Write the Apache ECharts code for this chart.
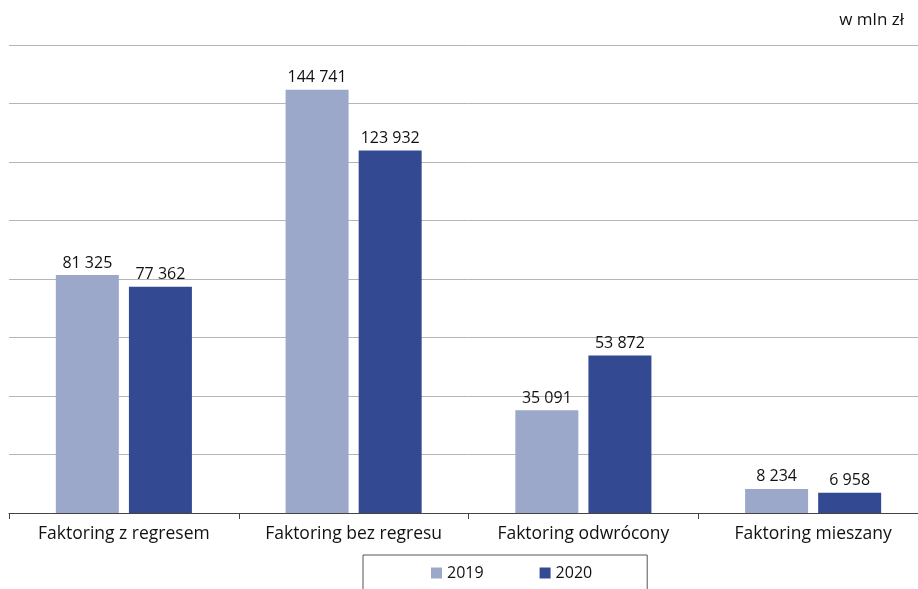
<!DOCTYPE html>
<html><head><meta charset="utf-8">
<script src="https://cdn.jsdelivr.net/npm/echarts@6/dist/echarts.min.js"></script>
<style>html,body{margin:0;padding:0;background:#fff;overflow:hidden;width:918px;height:589px}#c{width:928px;height:589px}</style>
</head><body><div id="c"></div>
<script>
const categories = ["Faktoring z regresem", "Faktoring bez regresu", "Faktoring odwrócony", "Faktoring mieszany"];
const years = ["2019", "2020"];
const values2019 = [81325, 144741, 35091, 8234];
const values2020 = [77362, 123932, 53872, 6958];
const unitLabel = "w mln zł";

const fmt = v => String(v).replace(/\B(?=(\d{3})+(?!\d))/g, " ");
const FONT = "Open Sans";
const chart = echarts.init(document.getElementById('c'));
const lbl = {show: true, position: 'top', distance: 4, color: '#111', fontSize: 16, fontFamily: FONT, formatter: p => fmt(p.value)};
chart.setOption({
  animation: false,
  textStyle: {fontFamily: FONT},
  title: {text: unitLabel, right: 19, top: 7, textStyle: {fontSize: 17, fontWeight: 'normal', color: '#111', fontFamily: FONT}},
  grid: {left: 9, right: 0, top: 45, bottom: 76, containLabel: false},
  legend: {
    data: years, left: 363, top: 555, width: 285,
    padding: [10, 55, 30, 68], itemGap: 56, itemWidth: 11, itemHeight: 11,
    borderColor: '#555', borderWidth: 1,
    textStyle: {fontSize: 16, color: '#111', fontFamily: FONT},
    icon: 'rect'
  },
  xAxis: {
    type: 'category', data: categories,
    axisLine: {lineStyle: {color: '#444', width: 1}},
    axisTick: {show: true, length: 6, lineStyle: {color: '#444'}},
    axisLabel: {fontSize: 17.5, color: '#111', margin: 12, fontFamily: FONT, interval: 0}
  },
  yAxis: {
    type: 'value', min: 0, max: 160000, interval: 20000,
    axisLabel: {show: false}, axisLine: {show: false}, axisTick: {show: false},
    splitLine: {lineStyle: {color: '#b5b5b5', width: 1}}
  },
  series: [
    {name: years[0], type: 'bar', data: values2019, barWidth: 63, barGap: '16%', itemStyle: {color: '#9ba8ca'}, label: lbl},
    {name: years[1], type: 'bar', data: values2020, barWidth: 63, barGap: '16%', itemStyle: {color: '#334a92'}, label: lbl}
  ]
});
</script></body></html>
